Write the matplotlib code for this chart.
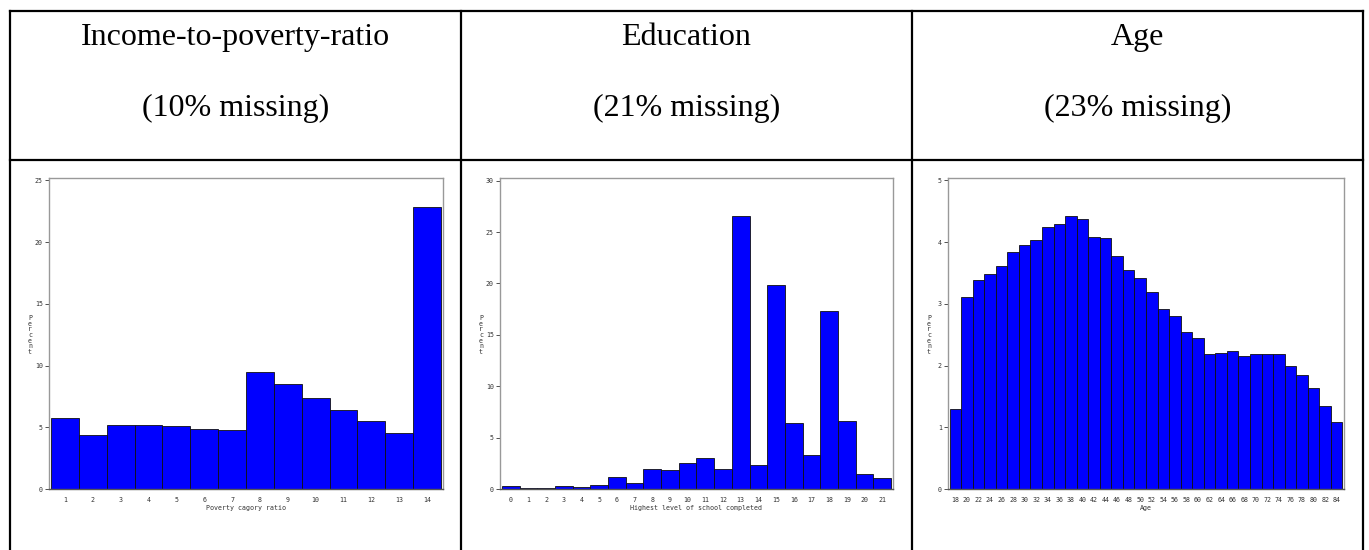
import matplotlib.pyplot as plt
from matplotlib.lines import Line2D

# Header texts
titles = ["Income-to-poverty-ratio", "Education", "Age"]
missing = ["(10% missing)", "(21% missing)", "(23% missing)"]

# Panel 1: poverty category ratio
pov_cat = list(range(1, 15))
pov_pct = [5.75, 4.4, 5.15, 5.17, 5.07, 4.88, 4.77, 9.46, 8.52, 7.39, 6.42, 5.53, 4.53, 22.83]

# Panel 2: highest level of school completed
edu_lvl = list(range(0, 22))
edu_pct = [0.26, 0.06, 0.1, 0.29, 0.23, 0.36, 1.2, 0.62, 1.91, 1.85, 2.53, 2.98, 1.98,
           26.6, 2.33, 19.83, 6.41, 3.3, 17.3, 6.64, 1.46, 1.07]

# Panel 3: age
age = list(range(18, 86, 2))
age_pct = [1.30, 3.11, 3.38, 3.48, 3.61, 3.84, 3.95, 4.03, 4.24, 4.29, 4.43, 4.37,
           4.08, 4.06, 3.78, 3.55, 3.42, 3.19, 2.91, 2.81, 2.54, 2.44, 2.18, 2.20,
           2.24, 2.16, 2.19, 2.19, 2.19, 1.99, 1.85, 1.63, 1.34, 1.08]

W, H = 1369, 550
fig = plt.figure(figsize=(W / 100, H / 100), dpi=100)
fig.patch.set_facecolor("white")

def fx(px):
    return px / W

def fy(py):
    return 1 - py / H

# table lines
lw = 1.6
col_x = [10, 461, 912, 1363]
for x in col_x:
    fig.add_artist(Line2D([fx(x), fx(x)], [fy(11), fy(550)], color="black", lw=lw))
for y in [11, 160]:
    fig.add_artist(Line2D([fx(10), fx(1363)], [fy(y), fy(y)], color="black", lw=lw))

# header text
for i in range(3):
    cx = (col_x[i] + col_x[i + 1]) / 2
    fig.text(fx(cx), fy(45), titles[i], ha="center", va="baseline",
             family="Liberation Serif", fontsize=23)
    fig.text(fx(cx), fy(116), missing[i], ha="center", va="baseline",
             family="Liberation Serif", fontsize=23)

panels = [
    dict(left=49, right=443, x=pov_cat, y=pov_pct, w=1, xlim=(0.43, 14.57),
         ylim=(0, 25.2), yticks=[0, 5, 10, 15, 20, 25], xticks=pov_cat,
         xlabel="Poverty cagory ratio"),
    dict(left=500, right=893, x=edu_lvl, y=edu_pct, w=1, xlim=(-0.61, 21.61),
         ylim=(0, 30.26), yticks=[0, 5, 10, 15, 20, 25, 30], xticks=edu_lvl,
         xlabel="Highest level of school completed"),
    dict(left=948, right=1344, x=age, y=age_pct, w=2, xlim=(16.74, 85.26),
         ylim=(0, 5.04), yticks=[0, 1, 2, 3, 4, 5], xticks=age,
         xlabel="Age"),
]

top, bottom = 178, 489
small = dict(family="DejaVu Sans Mono", fontsize=4.8)

for p in panels:
    ax = fig.add_axes([fx(p["left"]), fy(bottom), fx(p["right"] - p["left"]),
                       (bottom - top) / H])
    ax.bar(p["x"], p["y"], width=p["w"], color="#0000ff", edgecolor="#111111",
           linewidth=0.6)
    ax.set_xlim(*p["xlim"])
    ax.set_ylim(*p["ylim"])
    ax.set_yticks(p["yticks"])
    ax.set_xticks(p["xticks"])
    ax.set_xticklabels([str(v) for v in p["xticks"]], **small)
    ax.set_yticklabels([str(v) for v in p["yticks"]], **small)
    ax.tick_params(axis="y", length=3, width=0.6, pad=1.5, colors="#333333")
    ax.tick_params(axis="x", length=0, pad=5.5, colors="#333333")
    for s in ax.spines.values():
        s.set_color("#999999")
        s.set_linewidth(1.0)
    ax.spines["bottom"].set_color("#555555")
    ax.set_xlabel(p["xlabel"], labelpad=2, color="#333333", **small)
    fig.text(fx(p["left"] - 19), fy(335), "\n".join("Percent"), ha="center",
             va="center", linespacing=0.95, color="#333333", **small)

fig.savefig("out.png", dpi=100)
